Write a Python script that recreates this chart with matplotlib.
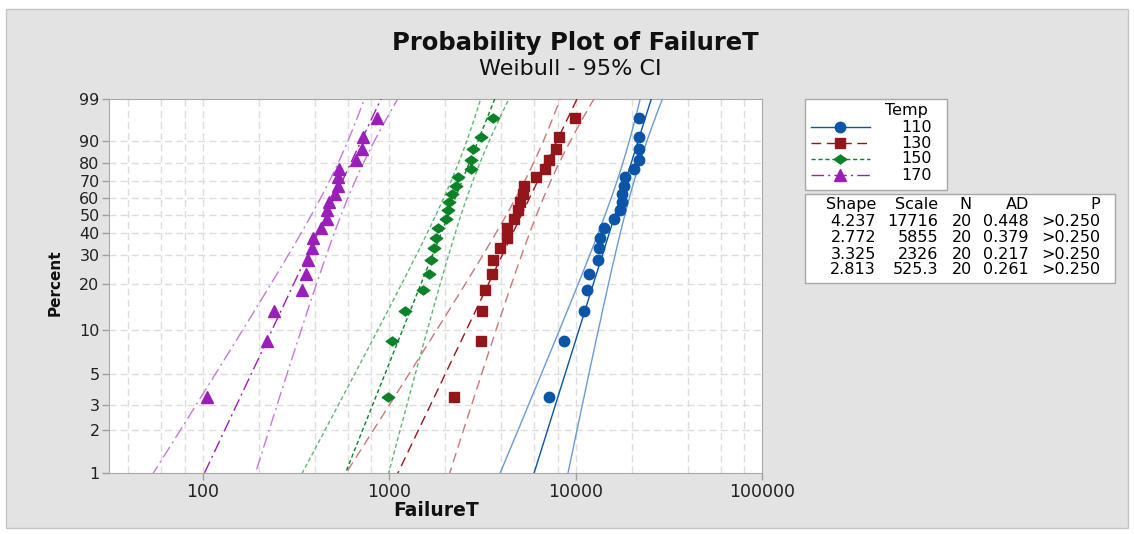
import numpy as np
import matplotlib
matplotlib.use("Agg")
import matplotlib.pyplot as plt
from matplotlib.patches import Rectangle
from matplotlib.lines import Line2D
from matplotlib.path import Path

# Weibull fit summary (from the table in the chart)
temps = ["110", "130", "150", "170"]
shape = [4.237, 2.772, 3.325, 2.813]
scale = [17716, 5855, 2326, 525.3]
n_obs = [20, 20, 20, 20]
ad_stat = [0.448, 0.379, 0.217, 0.261]
p_value = [">0.250", ">0.250", ">0.250", ">0.250"]

# failure times (sorted)
t110 = [7170, 8630, 11040, 11510, 11840, 13120, 13400, 13560, 14250, 15970,
        17340, 17620, 17650, 18070, 18460, 20620, 21700, 21750, 21800, 21850]
t130 = [2214, 3100, 3150, 3246, 3551, 3593, 3940, 4272, 4290, 4656,
        4891, 4998, 5205, 5313, 6131, 6880, 7228, 7850, 8180, 9960]
t150 = [980, 1030, 1213, 1521, 1633, 1671, 1741, 1778, 1829, 2029,
        2070, 2095, 2184, 2275, 2339, 2737, 2762, 2817, 3123, 3604]
t170 = [105.7, 221, 241, 341, 360, 366, 386, 391, 431, 464,
        465, 476, 512, 531, 532, 538, 663, 714, 723, 859]

y_ticks = [1, 2, 3, 5, 10, 20, 30, 40, 50, 60, 70, 80, 90, 99]
x_ticks = [100, 1000, 10000, 100000]

# wide diamond like Minitab's
wide_diamond = Path([(-1, 0), (0, 0.72), (1, 0), (0, -0.72), (-1, 0)],
                    [Path.MOVETO, Path.LINETO, Path.LINETO, Path.LINETO, Path.CLOSEPOLY])

colors = ["#0a55a8", "#95161a", "#0a8228", "#9a1fb8"]
band_colors = ["#6b9ad6", "#c9787a", "#5fb774", "#c57ad8"]
markers = ["o", "s", wide_diamond, "^"]
msizes = [7.5, 7.5, 9, 9]
dashes = [None, (7, 4), (3, 2), (9, 3, 1.5, 3)]

W, H = 1134, 534
plt.rcParams["font.family"] = ["DejaVu Sans"]


def fx(x):
    return x / W


def fy(y):
    return 1 - y / H


def fwd(p):
    p = np.clip(np.asarray(p, dtype=float), 1e-9, 100 - 1e-9)
    return np.log(-np.log(1 - p / 100.0))


def inv(w):
    return 100.0 * (1 - np.exp(-np.exp(np.asarray(w, dtype=float))))


fig = plt.figure(figsize=(W / 100, H / 100), dpi=100)
fig.patch.set_facecolor("white")
fig.add_artist(Rectangle((fx(6), fy(528)), fx(1122), 519 / H, transform=fig.transFigure,
                         facecolor="#e3e3e3", edgecolor="#c4c4c4", lw=1, zorder=0))

ax = fig.add_axes([fx(109.3), fy(473), fx(762.3 - 109.3), (473 - 99) / H])
ax.set_facecolor("white")
ax.set_xscale("log")
ax.set_yscale("function", functions=(fwd, inv))
ax.set_xlim(10 ** 1.5, 1e5)
ax.set_ylim(1, 99)

# grid
grid_x = []
for dec in [10, 100, 1000, 10000]:
    grid_x += [dec * k for k in (2, 4, 6, 8)] + [dec * 10]
for gx in grid_x:
    if 10 ** 1.5 < gx < 1e5:
        ax.axvline(gx, color="#dcdcdc", lw=1, dashes=(5, 3), zorder=1)
for gy in y_ticks[1:-1]:
    ax.axhline(gy, color="#dcdcdc", lw=1, dashes=(5, 3), zorder=1)

ax.set_yticks(y_ticks)
ax.set_yticklabels([str(v) for v in y_ticks])
ax.set_xticks(x_ticks)
ax.set_xticklabels([str(v) for v in x_ticks])
ax.minorticks_off()
ax.tick_params(axis="both", length=5, width=1, color="#a0a0a0",
               labelcolor="#222222", pad=2)
ax.tick_params(axis="x", labelsize=12.5)
ax.tick_params(axis="y", labelsize=11.5)
for sp in ax.spines.values():
    sp.set_color("#a8a8a8")

# fitted lines and 95% confidence bands
pp = np.linspace(0.3, 99.7, 400)
w = fwd(pp)
z = 1.96
for k, data in enumerate([t110, t130, t150, t170]):
    n = len(data)
    sigma = 1.0 / shape[k]
    mu = np.log(scale[k])
    fit = mu + sigma * w
    var = sigma ** 2 / n_obs[k] * (1.1087 - 2 * 0.2570 * w + 0.6079 * w ** 2)
    se = np.sqrt(var)
    kw = dict(lw=1.0, zorder=3)
    if dashes[k] is not None:
        kw["dashes"] = dashes[k]
    ax.plot(np.exp(fit), pp, color=colors[k], **kw)
    ax.plot(np.exp(fit - z * se), pp, color=band_colors[k], **kw)
    ax.plot(np.exp(fit + z * se), pp, color=band_colors[k], **kw)
    ranks = np.arange(1, n + 1)
    pct = 100 * (ranks - 0.3) / (n + 0.4)
    ax.plot(data, pct, linestyle="none", marker=markers[k], ms=msizes[k],
            color=colors[k], mec=colors[k], zorder=4, clip_on=False)

# titles
fig.text(fx(575), fy(43), "Probability Plot of FailureT", ha="center", va="center",
         fontsize=17.5, fontweight="bold", color="#111111")
fig.text(fx(570), fy(69), "Weibull - 95% CI", ha="center", va="center",
         fontsize=16, color="#111111")
fig.text(fx(55), fy(283), "Percent", ha="center", va="center", rotation=90,
         fontsize=11, fontweight="bold", color="#111111")
fig.text(fx(436), fy(510), "FailureT", ha="center", va="center",
         fontsize=13.5, fontweight="bold", color="#111111")

# legend box
fig.add_artist(Rectangle((fx(805), fy(190)), fx(946.7 - 805), (190 - 99.3) / H,
                         transform=fig.transFigure, facecolor="white",
                         edgecolor="#a8a8a8", lw=1, zorder=2))
fig.text(fx(906), fy(110), "Temp", ha="center", va="center", fontsize=11.5, zorder=3)
leg_y = [127.3, 143.3, 158.8, 175]
for k in range(4):
    yy = fy(leg_y[k])
    lkw = dict(transform=fig.transFigure, color=colors[k], lw=1.0, zorder=3)
    if dashes[k] is not None:
        lkw["dashes"] = dashes[k]
    fig.add_artist(Line2D([fx(811), fx(870)], [yy, yy], **lkw))
    fig.add_artist(Line2D([fx(840)], [yy], transform=fig.transFigure, linestyle="none",
                          marker=markers[k], ms=msizes[k], color=colors[k], zorder=4))
    fig.text(fx(932), yy, temps[k], ha="right", va="center", fontsize=11.5, zorder=4)

# statistics table
fig.add_artist(Rectangle((fx(805), fy(283.3)), fx(1115 - 805), (283.3 - 194) / H,
                         transform=fig.transFigure, facecolor="white",
                         edgecolor="#a8a8a8", lw=1, zorder=2))
col_x = [876, 938, 971.7, 1029, 1100]
headers = ["Shape", "Scale", "N", "AD", "P"]
row_y = [205, 221, 237.7, 254.3, 270]
for c, h in enumerate(headers):
    fig.text(fx(col_x[c]), fy(row_y[0]), h, ha="right", va="center", fontsize=11.5, zorder=3)
for k in range(4):
    cells = [f"{shape[k]:.3f}", f"{scale[k]:g}", str(n_obs[k]), f"{ad_stat[k]:.3f}", p_value[k]]
    for c, txt in enumerate(cells):
        fig.text(fx(col_x[c]), fy(row_y[k + 1]), txt, ha="right", va="center",
                 fontsize=11.5, zorder=3)

fig.savefig("out.png", dpi=100)
